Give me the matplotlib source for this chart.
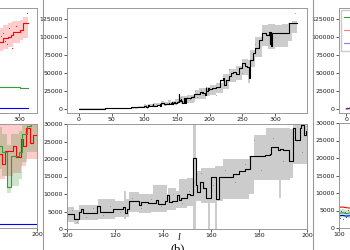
import matplotlib
matplotlib.use('Agg')
import matplotlib.pyplot as plt
from matplotlib.lines import Line2D
from matplotlib.ticker import MultipleLocator

# ---- center panel (b): mean curve, band and samples ----
mid_x = [0, 10, 20, 30, 40, 50, 60, 70, 80, 90,
         100, 103, 105, 105.8, 106.6, 112.5, 113.8, 119, 123.3, 124.1,
         125, 126, 130.2, 130.9, 133.6, 137.2, 137.9, 141, 141.6, 142.6,
         143.8, 145.9, 146.6, 147.5, 150.2, 151.2, 152.4, 153.6, 154.2, 155.4,
         156.5, 158, 160.2, 162, 163.2, 169, 171.8, 174, 176.4, 182.3,
         184.4, 185.2, 187.8, 188.6, 189.8, 192.4, 194.2, 194.9, 196.9, 197.6,
         198.8, 199.5, 204, 210, 215.5, 220.5, 222.5, 225.5, 229, 233,
         236, 241, 245, 250, 254, 257, 260, 262.5, 266, 270,
         275, 280, 287, 291.5, 292, 293, 294, 295, 298, 302,
         321.5, 333]
mid_y = [200, 300, 400, 600, 800, 1000, 1300, 1700, 2200, 3200,
         4300, 2900, 4900, 5600, 4500, 6600, 4800, 5700, 6400, 4500,
         5600, 8000, 7000, 7600, 7300, 8300, 7200, 8000, 9700, 7600,
         8000, 9700, 8300, 8800, 9900, 9700, 20200, 12600, 10700, 13300,
         11600, 9000, 14900, 8700, 14900, 15800, 16600, 17100, 20800, 21200,
         21400, 23300, 22600, 23000, 22600, 19300, 28800, 25400, 28800, 29700,
         26900, 28000, 28500, 30100, 40300, 42600, 33300, 40300, 46000, 49600,
         51900, 49000, 56500, 63400, 60000, 58800, 42600, 68000, 77300, 84300,
         95800, 105000, 103000, 107400, 90000, 107000, 88000, 105000, 105000, 106000,
         119000, 120000]

band_x = [0, 50, 90, 100, 103, 105, 113, 120, 123.6, 124.6,
          126, 130, 135, 136, 141.5, 142.2, 145.5, 146.5, 150, 152.4,
          153.6, 156, 158.6, 159.4, 161.7, 162.5, 165, 176, 178, 183,
          188.3, 189, 193, 194, 200, 210, 220, 230, 240, 250,
          258, 262, 270, 280, 290, 300, 310, 320, 326, 333]
band_lo = [0, 500, 1500, 2000, 1500, 2500, 3000, 3500, 3000, 3500,
           5000, 4500, 5000, 5000, 5500, 5500, 6000, 6000, 6500, 0,
           8000, 7500, 0, 7500, 0, 8000, 8500, 10000, 14000, 14000,
           8800, 14000, 14500, 18500, 20000, 22000, 28000, 38000, 40000, 47000,
           36000, 58000, 72000, 88000, 84000, 86000, 86000, 95000, 105000, 110000]
band_hi = [800, 1800, 4500, 6400, 5500, 7000, 8500, 8000, 11000, 8500,
           10500, 10000, 10000, 12600, 10000, 11600, 11000, 14200, 14500, 36500,
           16500, 17400, 17400, 17400, 18000, 18000, 20000, 21000, 26900, 28800,
           28800, 28800, 28500, 31000, 34000, 36000, 48000, 56000, 60000, 70000,
           68000, 82000, 100000, 116000, 118000, 117000, 118000, 120000, 122000, 123000]

dot_x = [102, 104, 108, 111, 115, 118, 122, 127, 131, 135, 139, 144, 148, 151,
         156, 161, 166, 170, 174, 178, 181, 186, 190, 195, 198,
         60, 80, 210, 230, 250, 270, 300, 330]
dot_y = [5500, 2000, 3500, 6000, 4000, 6500, 5000, 9000, 6000, 8500, 6500, 10000, 7500, 11000,
         16000, 12500, 17000, 13500, 18500, 25500, 17000, 26000, 19500, 30500, 22000,
         800, 2500, 20000, 55000, 50000, 90000, 100000, 133000]

# ---- left panel (a): only its right edge is in view ----
a_red_x = [270, 278, 284, 288, 291, 302, 305.5, 313]
a_red_y = [93500, 98200, 100500, 102800, 107400, 109700, 119000, 119900]
a_red_lo = [80000, 84000, 86500, 86500, 92000, 96000, 98000, 98000]
a_red_hi = [112000, 116000, 119000, 121000, 122000, 124000, 128000, 128000]
a_red_dx = [272, 275, 277, 280, 283, 286, 290, 296, 312]
a_red_dy = [88000, 101000, 105000, 95000, 90000, 112000, 85000, 115000, 133000]
a_green_x = [270, 300, 302, 313]
a_green_y = [31000, 31000, 28700, 28700]
a_blue_x = [270, 313]
a_blue_y = [1800, 1800]

a_zr_x = [180, 185.3, 186.6, 190.2, 191.2, 193.2, 194.3, 195.6, 197, 198.3, 200]
a_zr_y = [21300, 18500, 22300, 23700, 20400, 25600, 23700, 28900, 24500, 26900, 26900]
a_zr_lo = [14000, 14000, 15000, 16000, 16000, 18000, 18000, 20000, 20000, 20000, 20000]
a_zr_hi = [30500, 30500, 31000, 31000, 31000, 31000, 31000, 31000, 31000, 31000, 31000]
a_zg_x = [180, 185.3, 187.5, 189, 192.3, 193.7, 195.8, 197.3, 200]
a_zg_y = [23700, 21800, 11800, 20900, 21800, 27000, 29400, 31000, 31000]
a_zg_lo = [17000, 15000, 10000, 12000, 14000, 19000, 22000, 22000, 22000]
a_zg_hi = [29000, 27000, 24000, 27000, 28000, 31000, 31000, 31000, 31000]
a_zb_x = [180, 200]
a_zb_y = [1060, 1060]

# ---- right panel (c): only its left edge is in view ----
c_x = [0, 3, 6, 10]
c_red = [300, 500, 800, 1200]
c_green = [200, 400, 700, 1000]
c_blue = [100, 300, 500, 800]
c_dx = [1, 2, 4, 5]
c_dy = [2500, 1500, 3000, 2000]

c_zx = [100, 101.5, 103, 104.5, 106]
c_zr = [5900, 6000, 5800, 5700, 5700]
c_zg = [4200, 4400, 4100, 4300, 4300]
c_zg_lo = [3000, 3200, 2900, 3000, 3000]
c_zg_hi = [5500, 5600, 5300, 5400, 5400]
c_zb = [3500, 3600, 3400, 3500, 3500]
c_zdx = [100.5, 101, 101.8, 102.4, 103.1, 103.8]
c_zdy = [3000, 5000, 2600, 4600, 3200, 5200]

legend_labels = ['green', 'red', 'blue']

W, H = 350, 250
TOP_Y = (113, 8)
BOT_Y = (229, 124)
AX_W = 240
TOP_YLIM = (-5560, 140280)
SPINE = '0.6'
FS = 4.5


def make_ax(fig, left_px, ybox):
    ax = fig.add_axes([left_px / W, 1 - ybox[0] / H, AX_W / W, (ybox[0] - ybox[1]) / H])
    for s in ax.spines.values():
        s.set_color(SPINE)
        s.set_linewidth(0.7)
    ax.tick_params(labelsize=FS, length=2, width=0.5, pad=1, colors='0.1')
    return ax


fig = plt.figure(figsize=(W / 100, H / 100), dpi=100)

# center top
ax = make_ax(fig, 67, TOP_Y)
ax.fill_between(band_x, band_lo, band_hi, step='post', color='0.8', lw=0)
ax.scatter(dot_x, dot_y, s=0.3, color='0.55', lw=0)
ax.step(mid_x, mid_y, where='post', color='k', lw=0.8)
ax.set_xlim(-18.4, 349)
ax.set_ylim(*TOP_YLIM)
ax.xaxis.set_major_locator(MultipleLocator(50))
ax.yaxis.set_major_locator(MultipleLocator(25000))

# center bottom
ax = make_ax(fig, 67, BOT_Y)
ax.fill_between(band_x, band_lo, band_hi, step='post', color='0.8', lw=0)
ax.scatter(dot_x, dot_y, s=0.4, color='0.55', lw=0)
ax.step(mid_x, mid_y, where='post', color='k', lw=0.8)
ax.set_xlim(100, 200)
ax.set_ylim(0, 30000)
ax.xaxis.set_major_locator(MultipleLocator(20))
ax.yaxis.set_major_locator(MultipleLocator(5000))

# left top
ax = make_ax(fig, 37 - AX_W, TOP_Y)
ax.fill_between(a_red_x, a_red_lo, a_red_hi, step='post', color='red', alpha=0.2, lw=0)
ax.scatter(a_red_dx, a_red_dy, s=0.6, color='red', lw=0)
ax.step(a_red_x, a_red_y, where='post', color='red', lw=0.8)
ax.step(a_green_x, a_green_y, where='post', color='#3a9a3a', lw=0.8)
ax.step(a_blue_x, a_blue_y, where='post', color='blue', lw=0.8)
ax.set_xlim(-14.5, 325.5)
ax.set_ylim(*TOP_YLIM)
ax.xaxis.set_major_locator(MultipleLocator(50))

# left bottom
ax = make_ax(fig, 37 - AX_W, (228, 124))
ax.fill_between(a_zr_x, a_zr_lo, a_zr_hi, step='post', color='red', alpha=0.2, lw=0)
ax.fill_between(a_zg_x, a_zg_lo, a_zg_hi, step='post', color='green', alpha=0.2, lw=0)
ax.step(a_zr_x, a_zr_y, where='post', color='red', lw=0.8)
ax.step(a_zg_x, a_zg_y, where='post', color='#3a9a3a', lw=0.8)
ax.step(a_zb_x, a_zb_y, where='post', color='blue', lw=0.8)
ax.set_xlim(100, 200)
ax.set_ylim(0, 30000)
ax.xaxis.set_major_locator(MultipleLocator(20))

# right top
ax = make_ax(fig, 339, TOP_Y)
lg = ax.plot(c_x, c_green, color='#3a9a3a', lw=0.8)
lr = ax.plot(c_x, c_red, color='red', lw=0.8, alpha=0.5)
lb = ax.plot(c_x, c_blue, color='blue', lw=0.8, alpha=0.5)
ax.scatter(c_dx, c_dy, s=0.6, color='#ff88cc', lw=0)
ax.set_xlim(-11, 349)
ax.set_ylim(*TOP_YLIM)
ax.xaxis.set_major_locator(MultipleLocator(50))
ax.yaxis.set_major_locator(MultipleLocator(25000))
ax.legend(lg + lr + lb, legend_labels, loc='upper left', fontsize=6, labelspacing=0.45,
          handlelength=1.6, borderaxespad=0.25, frameon=True, fancybox=False,
          edgecolor='0.75')

# right bottom
ax = make_ax(fig, 339, (228, 123))
ax.fill_between(c_zx, c_zg_lo, c_zg_hi, color='green', alpha=0.2, lw=0)
ax.scatter(c_zdx, c_zdy, s=0.6, color='#1a6a3a', lw=0)
ax.plot(c_zx, c_zr, color='red', lw=0.8)
ax.plot(c_zx, c_zg, color='#3a9a3a', lw=0.8)
ax.plot(c_zx, c_zb, color='blue', lw=0.8)
ax.set_xlim(100, 200)
ax.set_ylim(0, 30000)
ax.xaxis.set_major_locator(MultipleLocator(20))
ax.yaxis.set_major_locator(MultipleLocator(5000))

# borders of the sub-figure
for xp in (43, 313):
    fig.add_artist(Line2D([xp / W, xp / W], [0, 1], color='0.6', lw=0.8))

fig.text(179 / W, 1 - 238 / H, 'l', family='Liberation Serif', style='italic',
         fontsize=7, ha='center', va='center')
fig.text(178 / W, 1 - 249 / H, '(b)', family='Liberation Serif', fontsize=9,
         ha='center', va='center')

fig.savefig('out.png', dpi=100)
